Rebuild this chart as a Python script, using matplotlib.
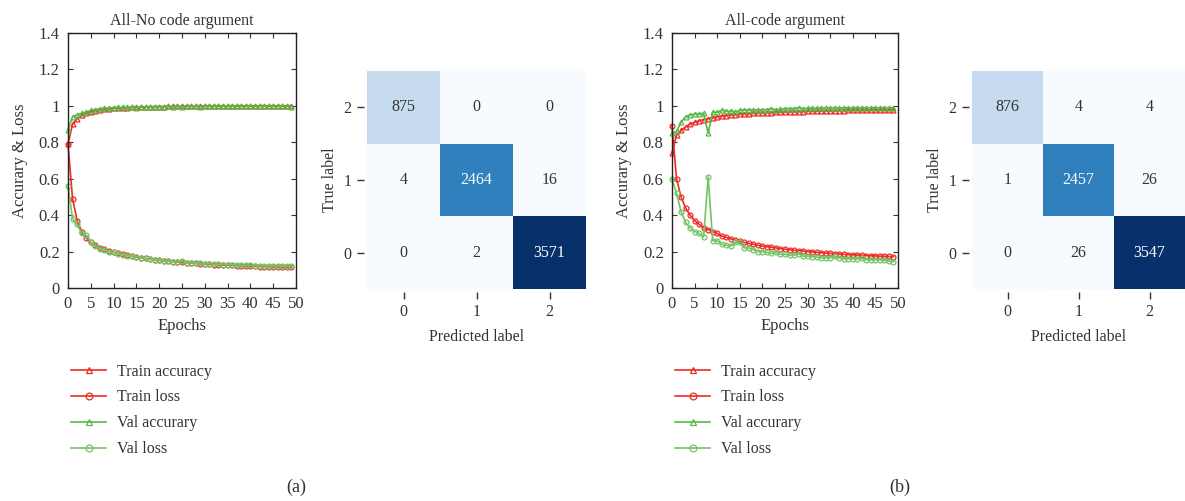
import numpy as np
import matplotlib
matplotlib.use("Agg")
import matplotlib.pyplot as plt

plt.rcParams['font.family'] = ['Liberation Serif', 'DejaVu Serif']
plt.rcParams['text.color'] = '#333333'
plt.rcParams['axes.labelcolor'] = '#333333'
plt.rcParams['xtick.color'] = '#333333'
plt.rcParams['ytick.color'] = '#333333'

epochs = list(range(50))

# panel (a): All-No code argument
a_train_acc = [0.79, 0.90, 0.93, 0.95, 0.96, 0.968, 0.974, 0.978, 0.981, 0.984,
               0.986, 0.988, 0.989, 0.990, 0.991, 0.992, 0.993, 0.994, 0.995, 0.995,
               0.996, 0.996, 0.997, 0.997, 0.997, 0.998, 0.998, 0.998, 0.998, 0.998,
               0.999, 0.999, 0.999, 0.999, 0.999, 0.999, 0.999, 0.999, 1.0, 1.0,
               1.0, 1.0, 1.0, 1.0, 1.0, 1.0, 1.0, 1.0, 1.0, 1.0]
a_train_loss = [0.79, 0.49, 0.37, 0.31, 0.275, 0.25, 0.235, 0.222, 0.212, 0.203,
                0.196, 0.19, 0.184, 0.179, 0.174, 0.17, 0.166, 0.162, 0.158, 0.155,
                0.152, 0.149, 0.147, 0.145, 0.143, 0.141, 0.139, 0.137, 0.135, 0.133,
                0.132, 0.13, 0.129, 0.127, 0.126, 0.125, 0.124, 0.123, 0.122, 0.121,
                0.12, 0.119, 0.118, 0.118, 0.117, 0.116, 0.116, 0.115, 0.115, 0.114]
a_val_acc = [0.87, 0.94, 0.95, 0.96, 0.965, 0.975, 0.98, 0.984, 0.987, 0.989,
             0.99, 0.991, 0.992, 0.992, 0.993, 0.99, 0.995, 0.995, 0.995, 0.996,
             0.996, 0.996, 0.997, 0.996, 0.997, 0.994, 0.997, 0.997, 0.998, 0.996,
             0.997, 0.998, 0.998, 0.997, 0.998, 0.998, 0.998, 0.997, 0.998, 0.997,
             0.998, 0.997, 0.998, 0.998, 0.997, 0.998, 0.997, 0.997, 0.997, 0.996]
a_val_loss = [0.56, 0.38, 0.35, 0.30, 0.29, 0.25, 0.23, 0.215, 0.21, 0.2,
              0.195, 0.188, 0.183, 0.178, 0.174, 0.172, 0.165, 0.162, 0.158, 0.155,
              0.152, 0.15, 0.147, 0.145, 0.143, 0.148, 0.14, 0.138, 0.136, 0.135,
              0.134, 0.133, 0.131, 0.13, 0.129, 0.128, 0.127, 0.126, 0.125, 0.125,
              0.124, 0.123, 0.123, 0.122, 0.122, 0.121, 0.121, 0.12, 0.12, 0.12]

# panel (b): All-code argument
b_train_acc = [0.74, 0.84, 0.865, 0.885, 0.90, 0.91, 0.918, 0.925, 0.93, 0.935,
               0.94, 0.944, 0.947, 0.95, 0.952, 0.954, 0.956, 0.958, 0.959, 0.96,
               0.961, 0.962, 0.963, 0.964, 0.965, 0.966, 0.967, 0.968, 0.968, 0.969,
               0.97, 0.97, 0.971, 0.972, 0.972, 0.973, 0.973, 0.974, 0.974, 0.975,
               0.975, 0.975, 0.976, 0.976, 0.976, 0.977, 0.977, 0.977, 0.978, 0.978]
b_train_loss = [0.89, 0.60, 0.50, 0.44, 0.40, 0.37, 0.35, 0.33, 0.32, 0.31,
                0.30, 0.285, 0.278, 0.27, 0.262, 0.256, 0.25, 0.245, 0.24, 0.235,
                0.23, 0.226, 0.224, 0.22, 0.216, 0.213, 0.21, 0.207, 0.205, 0.203,
                0.2, 0.198, 0.196, 0.194, 0.192, 0.19, 0.188, 0.186, 0.185, 0.183,
                0.182, 0.181, 0.18, 0.178, 0.177, 0.176, 0.175, 0.174, 0.173, 0.172]
b_val_acc = [0.85, 0.86, 0.91, 0.94, 0.95, 0.955, 0.955, 0.96, 0.85, 0.965,
             0.965, 0.975, 0.972, 0.97, 0.968, 0.975, 0.978, 0.978, 0.978, 0.978,
             0.978, 0.98, 0.985, 0.978, 0.982, 0.985, 0.985, 0.985, 0.99, 0.985,
             0.986, 0.987, 0.987, 0.988, 0.99, 0.988, 0.99, 0.988, 0.989, 0.989,
             0.989, 0.99, 0.99, 0.99, 0.99, 0.99, 0.99, 0.99, 0.99, 0.99]
b_val_loss = [0.60, 0.52, 0.42, 0.36, 0.33, 0.31, 0.30, 0.28, 0.61, 0.26,
              0.26, 0.24, 0.235, 0.23, 0.25, 0.25, 0.22, 0.22, 0.21, 0.20,
              0.20, 0.195, 0.19, 0.195, 0.185, 0.185, 0.18, 0.18, 0.188, 0.175,
              0.175, 0.172, 0.17, 0.165, 0.165, 0.165, 0.175, 0.165, 0.16, 0.16,
              0.16, 0.16, 0.162, 0.155, 0.155, 0.155, 0.155, 0.152, 0.148, 0.145]

# confusion matrices, rows as shown top to bottom (true label 2, 1, 0)
cm_labels_true = ['2', '1', '0']
cm_labels_pred = ['0', '1', '2']
cm_a = [[875, 0, 0],
        [4, 2464, 16],
        [0, 2, 3571]]
cm_b = [[876, 4, 4],
        [1, 2457, 26],
        [0, 26, 3547]]

RED = '#ee2b26'
GREEN = '#58b947'
GREEN_L = '#74c463'

W, H = 1185, 501
fig = plt.figure(figsize=(W / 100, H / 100), dpi=100)


def px_axes(x0, y0, x1, y1):
    return fig.add_axes([x0 / W, 1 - y1 / H, (x1 - x0) / W, (y1 - y0) / H])


def line_panel(ax, title, tr_acc, tr_loss, va_acc, va_loss):
    kw = dict(lw=1.2, ms=3.5, mfc='none', mew=0.9, clip_on=False)
    ax.plot(epochs, tr_acc, color=RED, marker='^', label='Train accuracy', **kw)
    ax.plot(epochs, tr_loss, color=RED, marker='o', label='Train loss', **kw)
    ax.plot(epochs, va_acc, color=GREEN, marker='^', label='Val accurary', **kw)
    ax.plot(epochs, va_loss, color=GREEN_L, marker='o', label='Val loss', **kw)
    ax.set_xlim(0, 50)
    ax.set_ylim(0, 1.4)
    ax.set_xticks(range(0, 51, 5))
    ax.set_yticks([0, 0.2, 0.4, 0.6, 0.8, 1.0, 1.2, 1.4])
    ax.set_yticklabels(['0', '0.2', '0.4', '0.6', '0.8', '1', '1.2', '1.4'])
    ax.tick_params(direction='in', top=True, right=True, length=3.5, width=0.8,
                   labelsize=12, pad=6)
    for s in ax.spines.values():
        s.set_color('#222222')
        s.set_linewidth(1.0)
    ax.set_title(title, fontsize=11.5, pad=6)
    ax.set_xlabel('Epochs', fontsize=12, labelpad=4)
    ax.set_ylabel('Accurary & Loss', fontsize=12, labelpad=8)
    ax.legend(loc='upper left', bbox_to_anchor=(-0.05, -0.24), frameon=False,
              fontsize=11.5, handlelength=2.2, handletextpad=0.7, labelspacing=0.62,
              markerscale=1.4)


def cm_panel(ax, cm):
    data = np.array(cm)
    ax.imshow(data, cmap='Blues', vmin=0, vmax=data.max(), aspect='auto')
    for i in range(data.shape[0]):
        for j in range(data.shape[1]):
            v = data[i, j]
            c = 'white' if v > data.max() * 0.5 else '#333333'
            ax.text(j, i, str(v), ha='center', va='center', color=c, fontsize=11.5)
    ax.set_xticks(range(3))
    ax.set_xticklabels(cm_labels_pred)
    ax.set_yticks(range(3))
    ax.set_yticklabels(cm_labels_true)
    for s in ax.spines.values():
        s.set_visible(False)
    ax.spines['bottom'].set_position(('outward', 2))
    ax.spines['left'].set_position(('outward', 2))
    ax.tick_params(length=5, width=1.0, labelsize=11.5, pad=4, color='#333333')
    ax.set_xlabel('Predicted label', fontsize=11.5, labelpad=6)
    ax.set_ylabel('True label', fontsize=11.5, labelpad=4)


ax1 = px_axes(68, 33, 296, 288)
line_panel(ax1, 'All-No code argument', a_train_acc, a_train_loss, a_val_acc, a_val_loss)
cm1 = px_axes(367, 71, 586, 289)
cm_panel(cm1, cm_a)

ax2 = px_axes(672, 33, 898, 288)
line_panel(ax2, 'All-code argument', b_train_acc, b_train_loss, b_val_acc, b_val_loss)
cm2 = px_axes(972, 71, 1185, 289)
cm_panel(cm2, cm_b)

fig.text(296 / W, 1 - 487 / H, '(a)', ha='center', va='center', fontsize=13)
fig.text(900 / W, 1 - 487 / H, '(b)', ha='center', va='center', fontsize=13)

fig.savefig('out.png', dpi=100)
